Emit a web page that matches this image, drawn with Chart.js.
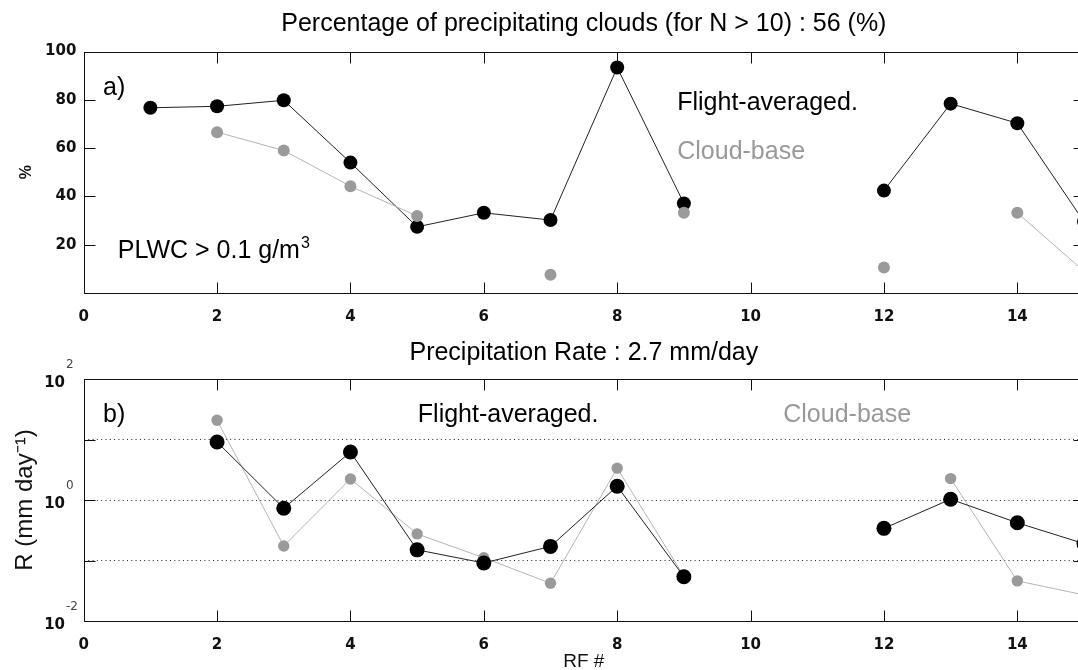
<!DOCTYPE html>
<html>
<head>
<meta charset="utf-8">
<script src="https://cdn.jsdelivr.net/npm/chart.js@4.4.0/dist/chart.umd.min.js"></script>
<style>
  html, body { margin: 0; padding: 0; background: #fff; overflow: hidden; width: 1078px; height: 670px; }
  canvas { position: absolute; left: 0; }
</style>
</head>
<body>
<canvas id="top" width="1100" height="335" style="top:0"></canvas>
<canvas id="bottom" width="1100" height="335" style="top:335px"></canvas>
<script>
// research flight number
const rf = [1, 2, 3, 4, 5, 6, 7, 8, 9, 10, 11, 12, 13, 14, 15];

// a) percentage of precipitating clouds
const pctFlight = [76.7, 77.3, 79.8, 54.0, 27.4, 33.2, 30.2, 93.4, 37.1, null, null, 42.4, 78.4, 70.3, 29.5];
const pctBase   = [null, 66.6, 59.0, 44.2, 31.9, null, 7.6, null, 33.2, null, null, 10.6, null, 33.2, 9.0];

// b) precipitation rate, mm/day
const rateFlight = [null, 9.1, 0.73, 6.2, 0.15, 0.091, 0.171, 1.69, 0.054, null, null, 0.34, 1.03, 0.42, 0.19];
const rateBase   = [null, 20.8, 0.174, 2.23, 0.275, 0.111, 0.042, 3.36, 0.055, null, null, null, 2.26, 0.046, 0.027];

const xTicks = [0, 2, 4, 6, 8, 10, 12, 14];
const pctTicks = [20, 40, 60, 80, 100];
const rateGrid = [0.01, 0.1, 1, 10, 100];
const rateLabels = [100, 1, 0.01];

Chart.defaults.font.family = "'Liberation Sans', Arial, sans-serif";
Chart.defaults.color = '#111';

const tickFont = { family: "'DejaVu Sans', sans-serif", size: 15, weight: 'bold' };
const noteFont = "25px 'Liberation Sans', Arial, sans-serif";
const BLACK = '#000', LINE_BLACK = '#222', GREY = '#9a9a9a', LINE_GREY = '#b4b4b4';

function pts(arr) { return rf.map((x, i) => ({ x: x, y: arr[i] })); }

function setTicks(list) {
  return function (scale) { scale.ticks = list.map(v => ({ value: v })); };
}

// box, inward ticks and in-axes notes
function framePlugin(cfg) {
  return {
    id: 'frame',
    afterDraw(chart) {
      const { ctx, chartArea: a, scales: { x, y } } = chart;
      ctx.save();
      ctx.strokeStyle = '#111';
      ctx.lineWidth = 1;
      const L = Math.round(a.left) + 0.5, R = Math.round(a.right) + 0.5;
      const T = Math.round(a.top) + 0.5, B = Math.round(a.bottom) + 0.5;
      ctx.strokeRect(L, T, R - L, B - T);
      ctx.beginPath();
      xTicks.forEach(v => {
        if (v <= x.min || v >= x.max) return;
        const px = Math.round(x.getPixelForValue(v)) + 0.5;
        ctx.moveTo(px, T); ctx.lineTo(px, T + 11);
        ctx.moveTo(px, B); ctx.lineTo(px, B - 11);
      });
      cfg.yTicks.forEach(v => {
        if (v <= y.min || v >= y.max) return;
        const py = Math.round(y.getPixelForValue(v)) + 0.5;
        ctx.moveTo(L, py); ctx.lineTo(L + 11, py);
        ctx.moveTo(R, py); ctx.lineTo(R - 11, py);
      });
      ctx.stroke();

      ctx.textBaseline = 'middle';
      ctx.textAlign = 'left';
      cfg.notes.forEach(n => {
        const px = x.getPixelForValue(n.x), py = y.getPixelForValue(n.y);
        ctx.font = noteFont;
        ctx.fillStyle = n.color || '#000';
        ctx.fillText(n.text, px, py);
        if (n.sup) {
          const w = ctx.measureText(n.text).width;
          ctx.font = "16px 'Liberation Sans', Arial, sans-serif";
          ctx.fillText(n.sup, px + w + 1, py - 8);
        }
      });

      if (cfg.logLabels) {
        cfg.logLabels.forEach(v => {
          const py = y.getPixelForValue(v);
          ctx.fillStyle = '#111';
          ctx.textAlign = 'right';
          ctx.font = "bold 15px 'DejaVu Sans', sans-serif";
          ctx.fillText('10', 65, py + 4);
          ctx.textAlign = 'left';
          ctx.fillStyle = '#444';
          ctx.font = "12px 'DejaVu Sans', sans-serif";
          ctx.fillText(String(Math.round(Math.log10(v))), 66, py - 14);
        });
      }
      ctx.restore();
    }
  };
}

function xScale(pad, title) {
  return {
    type: 'linear', min: 0, max: 15,
    afterBuildTicks: setTicks(xTicks),
    afterFit: s => { s.height = title ? 49 : 42; },
    grid: { display: false, drawTicks: false },
    border: { display: false },
    ticks: { font: tickFont, color: '#111', padding: pad, maxRotation: 0 },
    title: title ? { display: true, text: title, font: { size: 19, lineHeight: 0.9 }, color: '#111', padding: 0 } : { display: false }
  };
}

new Chart(document.getElementById('top'), {
  type: 'line',
  data: {
    datasets: [{
      label: 'Cloud-base',
      data: pts(pctBase),
      borderColor: LINE_GREY, borderWidth: 1,
      pointBackgroundColor: GREY, pointBorderWidth: 0, pointRadius: 6
    }, {
      label: 'Flight-averaged.',
      data: pts(pctFlight),
      borderColor: LINE_BLACK, borderWidth: 1,
      pointBackgroundColor: BLACK, pointBorderWidth: 0, pointRadius: 7
    }]
  },
  options: {
    responsive: false,
    animation: false,
    layout: { padding: { left: 0, right: 16, top: 0, bottom: 0 } },
    plugins: {
      legend: { display: false },
      tooltip: { enabled: false },
      title: {
        display: true, fullSize: false,
        text: 'Percentage of precipitating clouds (for N > 10) : 56 (%)',
        font: { size: 25, weight: 'normal' }, color: '#000',
        padding: { top: 9, bottom: 12.5 }
      }
    },
    scales: {
      x: xScale(15),
      y: {
        min: 0, max: 100,
        afterBuildTicks: setTicks(pctTicks),
        afterFit: s => { s.width = 83.7; },
        grid: { display: false, drawTicks: false },
        border: { display: false },
        ticks: { font: tickFont, color: '#111', padding: 7.3 },
        title: { display: true, text: '%', font: { size: 16, weight: 'bold' }, color: '#111', padding: { top: 17, bottom: 0 } }
      }
    }
  },
  plugins: [framePlugin({
    yTicks: pctTicks,
    notes: [
      { text: 'a)', x: 0.29, y: 85 },
      { text: 'Flight-averaged.', x: 8.9, y: 78.5 },
      { text: 'Cloud-base', x: 8.9, y: 58.5, color: '#999' },
      { text: 'PLWC > 0.1 g/m', sup: '3', x: 0.51, y: 17.3 }
    ]
  })]
});

new Chart(document.getElementById('bottom'), {
  type: 'line',
  data: {
    datasets: [{
      label: 'Flight-averaged.',
      data: pts(rateFlight),
      borderColor: LINE_BLACK, borderWidth: 1,
      pointBackgroundColor: BLACK, pointBorderWidth: 0, pointRadius: 7.5
    }, {
      label: 'Cloud-base',
      data: pts(rateBase),
      borderColor: LINE_GREY, borderWidth: 1,
      pointBackgroundColor: GREY, pointBorderWidth: 0, pointRadius: 5.7
    }]
  },
  options: {
    responsive: false,
    animation: false,
    layout: { padding: { left: 0, right: 16, top: 0, bottom: 0 } },
    plugins: {
      legend: { display: false },
      tooltip: { enabled: false },
      title: {
        display: true, fullSize: false,
        text: 'Precipitation Rate : 2.7 mm/day',
        font: { size: 25, weight: 'normal' }, color: '#000',
        padding: { top: 2.7, bottom: 11.3 }
      }
    },
    scales: {
      x: xScale(15.5, 'RF #'),
      y: {
        type: 'logarithmic', min: 0.01, max: 100,
        afterBuildTicks: setTicks(rateGrid),
        afterFit: s => { s.width = 83.7; },
        grid: {
          drawTicks: false,
          lineWidth: 1,
          color: c => (c.tick && c.tick.value > 0.01 && c.tick.value < 100) ? '#222' : 'rgba(0,0,0,0)'
        },
        border: { display: false, dash: [1, 3.3] },
        ticks: { display: false },
        title: { display: true, text: 'R (mm day\u207B\u00B9)', font: { size: 24 }, color: '#111', padding: { top: 10.6, bottom: 0 } }
      }
    }
  },
  plugins: [framePlugin({
    yTicks: [0.1, 1, 10],
    logLabels: rateLabels,
    notes: [
      { text: 'b)', x: 0.29, y: 25.6 },
      { text: 'Flight-averaged.', x: 5.01, y: 25.6 },
      { text: 'Cloud-base', x: 10.49, y: 25.6, color: '#999' }
    ]
  })]
});
</script>
</body>
</html>
